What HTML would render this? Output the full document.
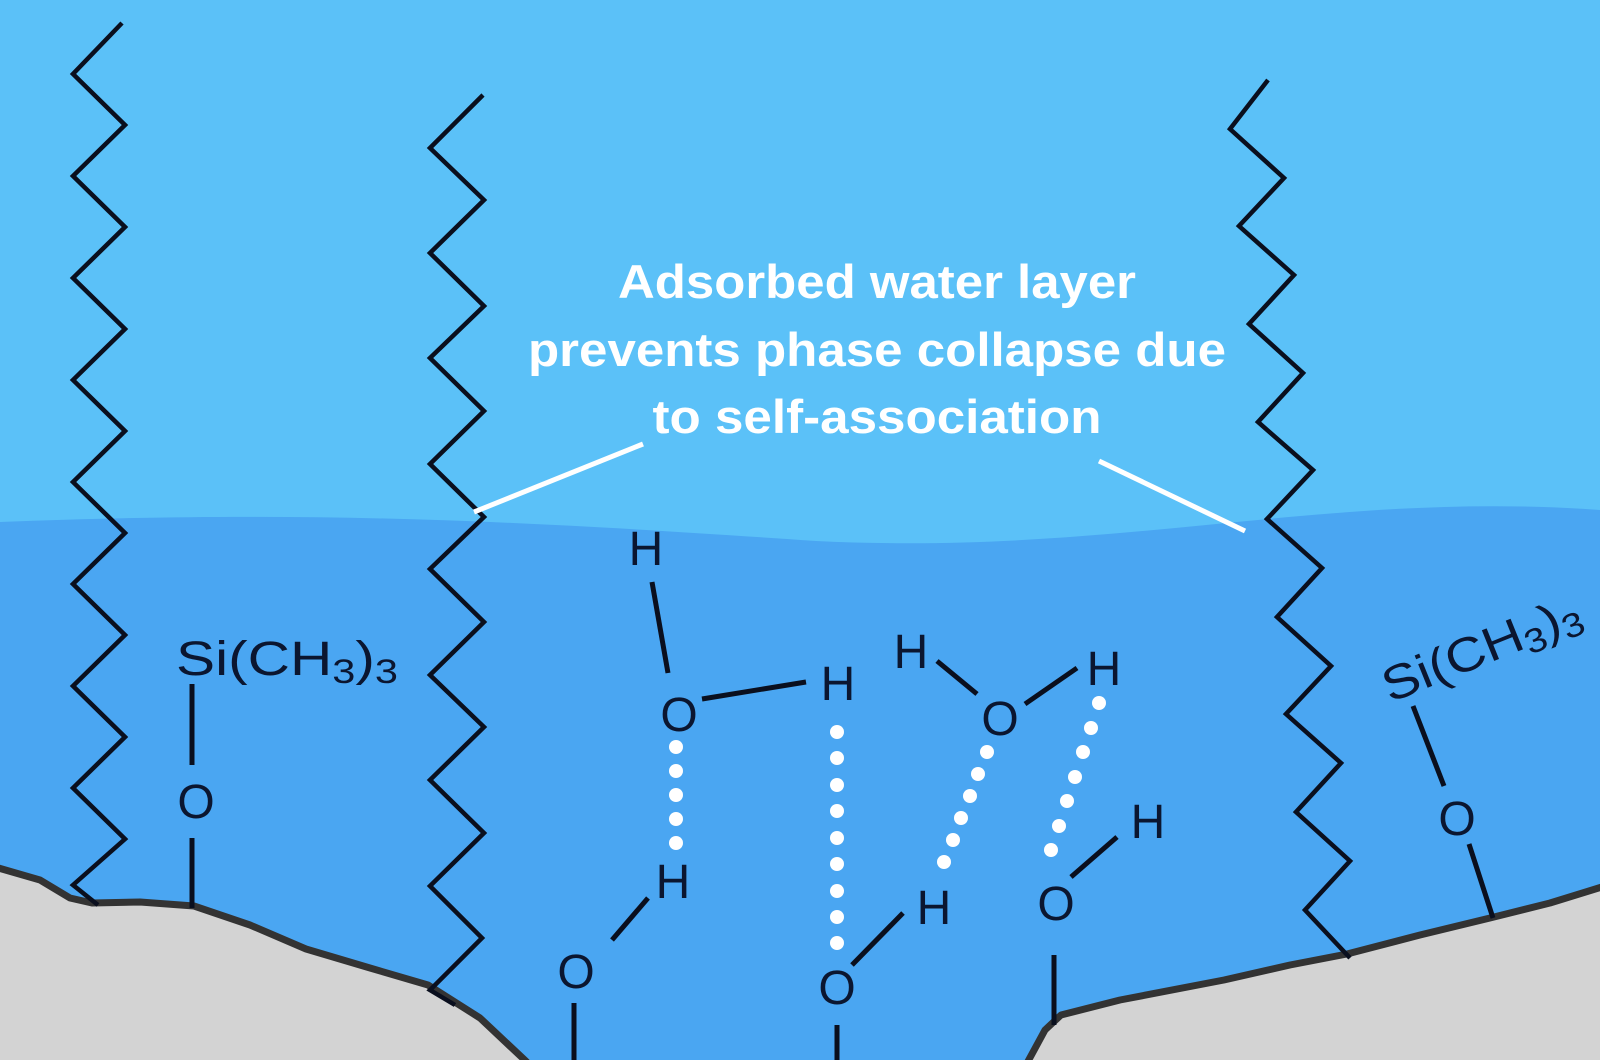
<!DOCTYPE html>
<html><head><meta charset="utf-8"><style>
html,body{margin:0;padding:0;width:1600px;height:1060px;overflow:hidden;background:#5bc1f8}
svg{display:block}
.t{font-family:"Liberation Sans",Arial,sans-serif;fill:#0b1630;font-size:48px}
.w{font-family:"Liberation Sans",Arial,sans-serif;fill:#fff;font-size:47px;font-weight:bold}
</style></head><body>
<svg width="1600" height="1060" viewBox="0 0 1600 1060" xmlns="http://www.w3.org/2000/svg">
<rect width="1600" height="1060" fill="#5bc1f8"/>
<path d="M0,522 C306,510 510,520 816,541 C1122,556 1326,490 1600,510 L1600,1060 L0,1060 Z" fill="#4aa6f2"/>
<!-- surface -->
<path d="M0,867 L40,880 L70,898 L92,903 L140,902 L194,906 L250,925 L306,949 L370,968 L428,985 L480,1018 L530,1060 L0,1060 Z" fill="#d3d3d3"/>
<path d="M-5,867 L40,880 L70,898 L92,903 L140,902 L194,906 L250,925 L306,949 L370,968 L428,985 L480,1018 L530,1065" fill="none" stroke="#333" stroke-width="7" stroke-linejoin="round"/>
<path d="M1030,1060 L1045,1030 L1061,1015 L1120,1000 L1224,980 L1290,965 L1347,954 L1420,935 L1490,918 L1550,903 L1600,888 L1600,1060 Z" fill="#d3d3d3"/>
<path d="M1026,1065 L1045,1030 L1061,1015 L1120,1000 L1224,980 L1290,965 L1347,954 L1420,935 L1490,918 L1550,903 L1605,886" fill="none" stroke="#333" stroke-width="7" stroke-linejoin="round"/>
<!-- chains -->
<g fill="none" stroke="#0a0f1e" stroke-width="4.5" stroke-linejoin="miter">
<polyline points="122,23 73,74 125,125 73,176 125,227 73,278 125,329 73,380 125,431 73,482 125,533 73,584 125,635 73,686 125,737 73,788 125,839 73,885 98,905"/>
<polyline points="483,95 430,148 484,200 430,253 484,306 430,358 484,411 430,464 484,517 430,569 484,622 430,675 484,727 430,780 484,833 430,886 482,938 430,990 455,1005"/>
<polyline points="1268,80 1230,129 1284,178 1239,226 1294,275 1249,324 1303,373 1258,422 1313,470 1267,519 1322,568 1277,617 1331,666 1286,714 1341,763 1296,812 1350,861 1305,910 1350,958"/>
</g>
<!-- bonds -->
<g stroke="#0a0f1e" stroke-width="5" stroke-linecap="butt">
<line x1="192" y1="684" x2="192" y2="765"/><line x1="192" y1="838" x2="192" y2="908"/>
<line x1="652" y1="582" x2="668" y2="673"/><line x1="702" y1="699" x2="806" y2="682"/>
<line x1="612" y1="940" x2="648" y2="898"/><line x1="574" y1="1003" x2="574" y2="1060"/>
<line x1="852" y1="965" x2="903" y2="913"/><line x1="837" y1="1025" x2="837" y2="1060"/>
<line x1="937" y1="661" x2="977" y2="694"/><line x1="1025" y1="704" x2="1077" y2="668"/>
<line x1="1071" y1="877" x2="1117" y2="837"/><line x1="1054" y1="955" x2="1054" y2="1025"/>
<line x1="1413" y1="706" x2="1444" y2="786"/><line x1="1469" y1="844" x2="1493" y2="918"/>
</g>
<!-- H bond dots -->
<g fill="#fff">
<circle cx="676" cy="747" r="7"/><circle cx="676" cy="771" r="7"/><circle cx="676" cy="795" r="7"/><circle cx="676" cy="819" r="7"/><circle cx="676" cy="843" r="7"/>
<circle cx="837" cy="732" r="7"/><circle cx="837" cy="758" r="7"/><circle cx="837" cy="785" r="7"/><circle cx="837" cy="811" r="7"/><circle cx="837" cy="838" r="7"/><circle cx="837" cy="864" r="7"/><circle cx="837" cy="891" r="7"/><circle cx="837" cy="917" r="7"/><circle cx="837" cy="943" r="7"/>
<circle cx="987" cy="752" r="7"/><circle cx="978" cy="774" r="7"/><circle cx="970" cy="796" r="7"/><circle cx="961" cy="818" r="7"/><circle cx="953" cy="840" r="7"/><circle cx="944" cy="862" r="7"/>
<circle cx="1099" cy="703" r="7"/><circle cx="1091" cy="728" r="7"/><circle cx="1083" cy="752" r="7"/><circle cx="1075" cy="777" r="7"/><circle cx="1067" cy="801" r="7"/><circle cx="1059" cy="826" r="7"/><circle cx="1051" cy="850" r="7"/>
</g>
<!-- atoms -->
<g class="t" text-anchor="middle">
<text x="196" y="818">O</text>
<text x="646" y="565">H</text><text x="679" y="731">O</text><text x="838" y="700">H</text>
<text x="673" y="898">H</text><text x="576" y="988">O</text>
<text x="837" y="1004">O</text><text x="934" y="924">H</text>
<text x="911" y="668">H</text><text x="1000" y="735">O</text><text x="1104" y="685">H</text>
<text x="1056" y="920">O</text><text x="1148" y="838">H</text>
<text x="1457" y="835">O</text>
</g>
<text class="t" x="176" y="675" textLength="222" lengthAdjust="spacingAndGlyphs">Si(CH<tspan font-size="34" dy="8">3</tspan><tspan dy="-8">)</tspan><tspan font-size="34" dy="8">3</tspan></text>
<text class="t" x="0" y="0" transform="translate(1390,703) rotate(-22)" textLength="210" lengthAdjust="spacingAndGlyphs">Si(CH<tspan font-size="34" dy="8">3</tspan><tspan dy="-8">)</tspan><tspan font-size="34" dy="8">3</tspan></text>
<!-- label -->
<g class="w" text-anchor="middle">
<text x="877" y="298" textLength="518" lengthAdjust="spacingAndGlyphs">Adsorbed water layer</text>
<text x="877" y="366" textLength="698" lengthAdjust="spacingAndGlyphs">prevents phase collapse due</text>
<text x="877" y="433" textLength="449" lengthAdjust="spacingAndGlyphs">to self-association</text>
</g>
<g stroke="#fff" stroke-width="5">
<line x1="474" y1="512" x2="643" y2="444"/>
<line x1="1099" y1="461" x2="1245" y2="531"/>
</g>
</svg>
</body></html>
